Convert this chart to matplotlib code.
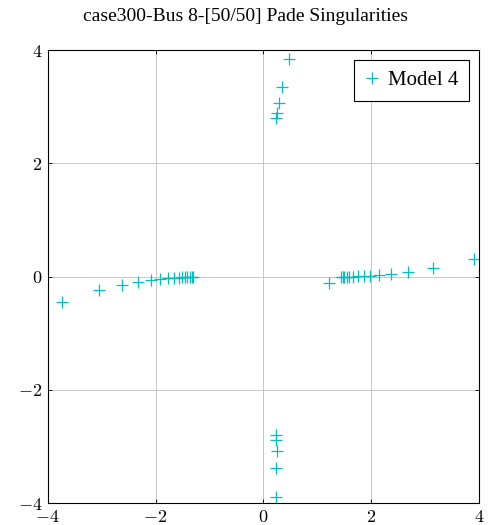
import matplotlib
matplotlib.use("Agg")
import matplotlib.pyplot as plt

plt.rcParams["font.family"] = ["Liberation Serif", "DejaVu Serif"]
plt.rcParams["mathtext.fontset"] = "cm"

# Pade singularities (real, imag)
re_left = [-3.74, -3.05, -2.62, -2.32, -2.09, -1.92, -1.77, -1.66, -1.57,
           -1.51, -1.46, -1.41, -1.37, -1.33, -1.30]
im_left = [-0.44, -0.235, -0.14, -0.10, -0.06, -0.04, -0.03, -0.02, -0.015,
           -0.01, -0.008, -0.006, -0.004, -0.002, -0.001]
re_right = [1.21, 1.44, 1.47, 1.50, 1.54, 1.59, 1.66, 1.75, 1.86, 1.98,
            2.15, 2.36, 2.68, 3.15, 3.91]
im_right = [-0.11, 0.0, 0.0, 0.0, 0.0, 0.0, 0.002, 0.004, 0.006, 0.01,
            0.03, 0.05, 0.09, 0.15, 0.31]
re_top = [0.47, 0.34, 0.28, 0.25, 0.235]
im_top = [3.85, 3.35, 3.06, 2.88, 2.80]
re_bot = [0.24, 0.24, 0.245, 0.24, 0.235]
im_bot = [-2.80, -2.88, -3.08, -3.37, -3.89]

re = re_left + re_right + re_top + re_bot
im = im_left + im_right + im_top + im_bot

fig = plt.figure(figsize=(4.88, 5.25), dpi=100)
ax = fig.add_axes([0.0977, 0.0413, 0.8844, 0.8634])

ax.plot(re, im, linestyle="none", marker="+", markersize=8,
        markeredgewidth=0.9, color=(0.0, 0.75, 0.75), label="Model 4")

ax.set_xlim(-4, 4)
ax.set_ylim(-4, 4)
ax.set_xticks([-4, -2, 0, 2, 4])
ax.set_yticks([-4, -2, 0, 2, 4])
ax.set_xticklabels(["$-4$", "$-2$", "$0$", "$2$", "$4$"])
ax.set_yticklabels(["$-4$", "$-2$", "$0$", "$2$", "$4$"])
ax.tick_params(direction="in", length=3, width=0.6, labelsize=13,
               top=True, right=True, pad=4)
ax.grid(True, color="0.75", linewidth=0.6)
for s in ax.spines.values():
    s.set_linewidth(0.8)

ax.set_title("case300-Bus 8-[50/50] Pade Singularities", fontsize=14,
             pad=21, x=0.458)

leg = ax.legend(loc="upper right", fontsize=15, fancybox=False, framealpha=1,
                edgecolor="black", handlelength=0.8, handletextpad=0.35,
                borderaxespad=0.5, borderpad=0.5)
leg.get_frame().set_linewidth(0.8)

fig.savefig("out.png", dpi=100)
